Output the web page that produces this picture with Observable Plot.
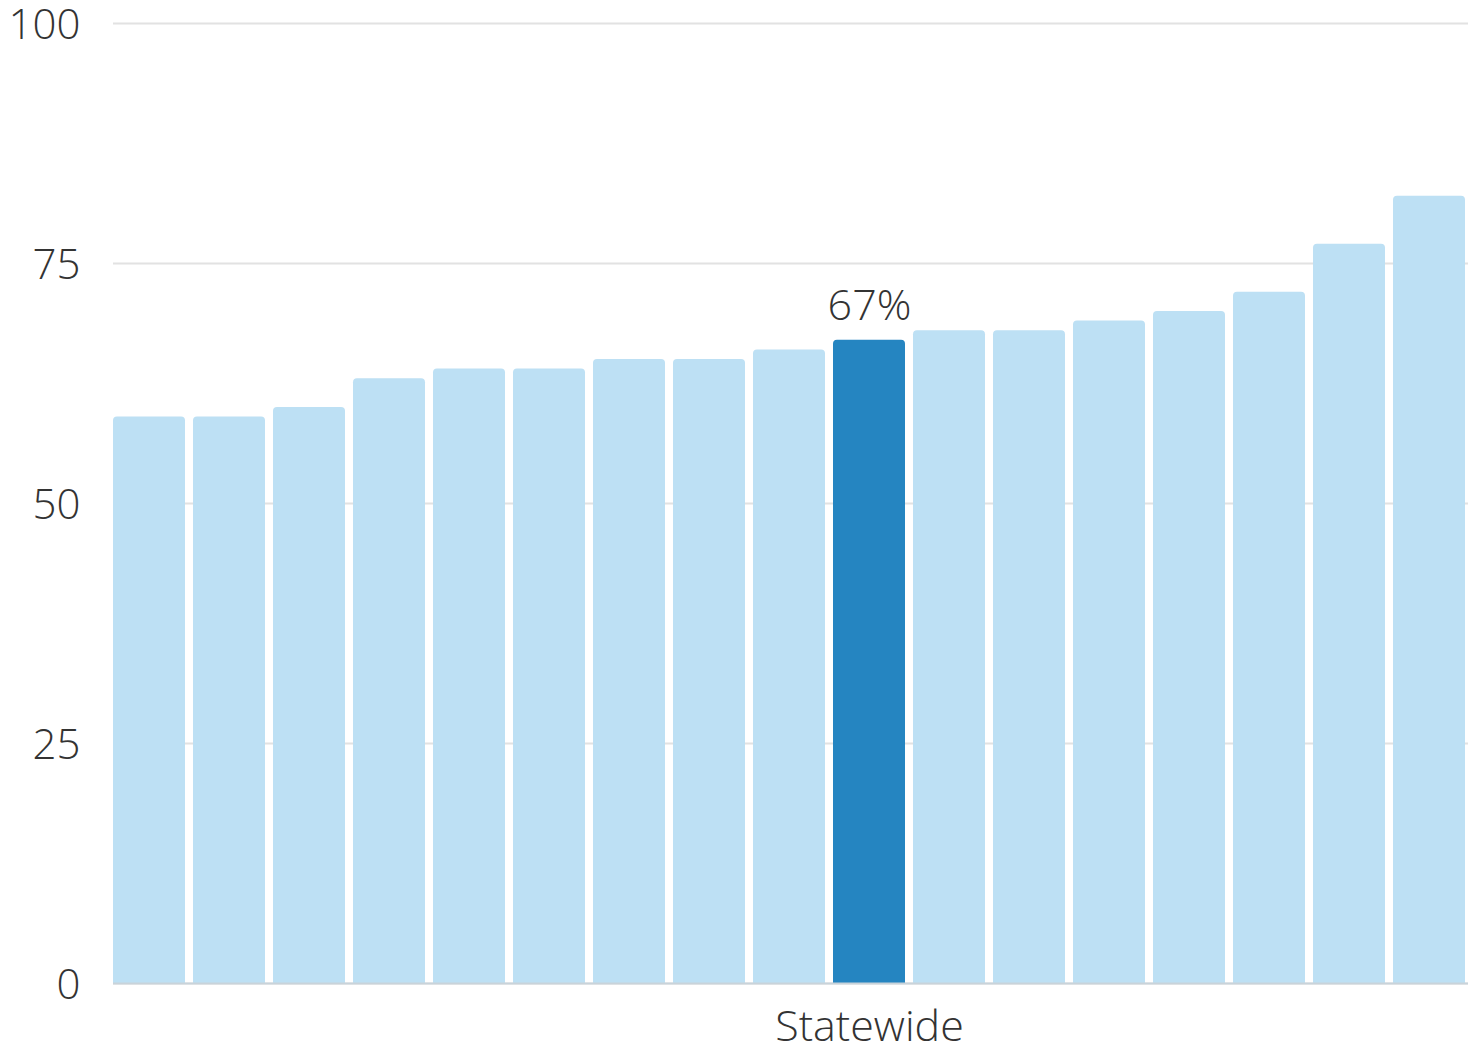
<!DOCTYPE html>
<html>
<head>
<meta charset="utf-8">
<script src="https://cdn.jsdelivr.net/npm/d3@7"></script>
<script src="https://cdn.jsdelivr.net/npm/@observablehq/plot@0.6"></script>
<style>
  html, body { margin: 0; padding: 0; background: #fff; }
  svg { display: block; }
</style>
</head>
<body>
<div id="chart"></div>
<script>
const xLabels = ["", "", "", "", "", "", "", "", "", "Statewide", "", "", "", "", "", "", ""];
const values = [59, 59, 60, 63, 64, 64, 65, 65, 66, 67, 68, 68, 69, 70, 72, 77, 82];
const highlightIndex = 9;
const yTicks = [0, 25, 50, 75, 100];

const data = values.map((v, i) => ({i, v, hl: i === highlightIndex}));

const chart = Plot.plot({
  width: 1468,
  height: 1053,
  marginLeft: 113,
  marginRight: 0,
  marginTop: 23,
  marginBottom: 70,
  style: {fontFamily: "'Open Sans', sans-serif", fontWeight: 300, color: "#333", background: "#fff"},
  x: {domain: d3.range(values.length), range: [113, 1473], paddingInner: 0.105, paddingOuter: 0, align: 0},
  y: {domain: [0, 100]},
  marks: [
    Plot.ruleY(yTicks, {stroke: "#e2e2e2", strokeWidth: 2}),
    Plot.barY(data, {x: "i", y: "v", fill: d => d.hl ? "#2585c1" : "#bde0f4", rx: 4, insetBottom: -8, clip: true}),
    Plot.ruleY([0], {stroke: "#c9d3da", strokeWidth: 2}),
    Plot.text(data.filter(d => d.hl), {x: "i", y: "v", text: d => d.v + "%", dy: -20, lineAnchor: "bottom", fontSize: 43, fill: "#333"}),
    Plot.axisY(yTicks, {tickSize: 0, tickPadding: 33, fontSize: 42, fill: "#333", label: null, dy: 2}),
    Plot.axisX({tickSize: 0, tickPadding: 27, fontSize: 43, fill: "#333", label: null, tickFormat: i => xLabels[i]})
  ]
});
document.getElementById("chart").appendChild(chart);
</script>
</body>
</html>
